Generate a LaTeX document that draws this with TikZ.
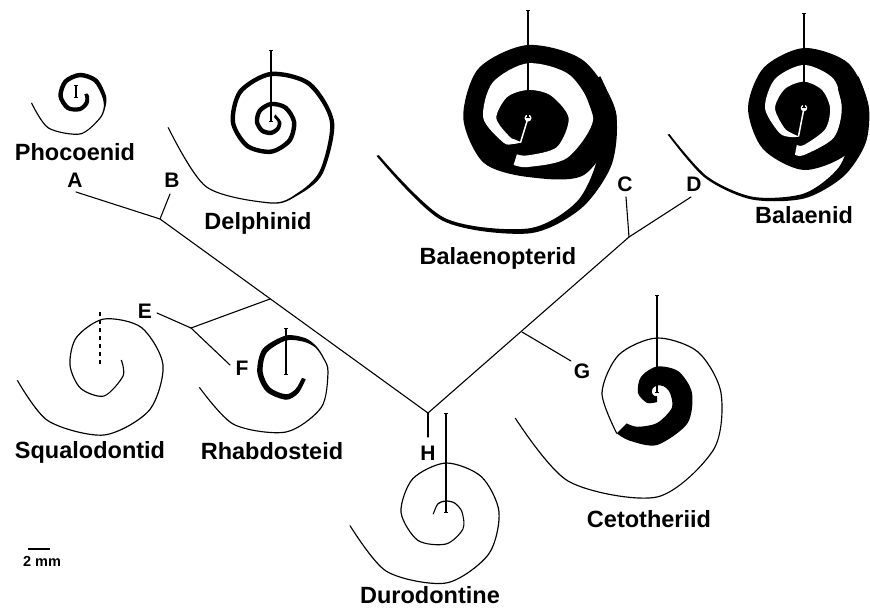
\documentclass[tikz,border=0pt]{standalone}
\usepackage{fontspec}
\setmainfont{Liberation Sans}
\usetikzlibrary{arrows.meta}

% A cochlear spiral drawn as a filled band: #2 is the centre,
% #3 a list of angle/radius/width triples (angles grow clockwise on the page),
% #1 the fill style (black band by default, white for the duct).
\newcommand\cochlea[3][spiralfill]{%
  \gdef\cochout{}\gdef\cochin{}%
  \foreach \sang/\srad/\swid in {#3}{%
    \pgfmathsetmacro\sro{\srad+\swid/2}%
    \pgfmathsetmacro\sri{\srad-\swid/2}%
    \xdef\cochout{\cochout ([shift={#2}]\sang:\sro)}%
    \xdef\cochin{([shift={#2}]\sang:\sri) \cochin}%
  }%
  \edef\cochpath{\noexpand\fill[#1] plot[smooth] coordinates {\cochout} -- plot[smooth] coordinates {\cochin} -- cycle;}%
  \cochpath
}

\tikzset{
  branch/.style={line width=1.1pt, line cap=round},
  modiolus/.style={line width=1.3pt, {Bar[width=4pt,line width=1pt]}-{Bar[width=4pt,line width=1pt]}},
  dashmodiolus/.style={line width=1.6pt, dash pattern=on 4pt off 4pt},
  taxon/.style={font=\bfseries\fontsize{23.5}{26}\selectfont, inner sep=0pt, anchor=base},
  clade/.style={font=\bfseries\fontsize{21}{24}\selectfont, inner sep=0pt, anchor=base},
  spiralfill/.style={fill=black},
  channel/.style={fill=white},
  slit/.style={white, line width=1.5pt},
}

\begin{document}
\begin{tikzpicture}[x=1pt, y=-1pt]
\useasboundingbox (0,0) rectangle (870,610);
\fill[white] (0,0) rectangle (870,610);

% ---------- tree ----------
\coordinate (jAB) at (160,219);
\coordinate (jEF) at (191,328);
\coordinate (jTrunk) at (270,299);
\coordinate (jH) at (428,413);
\coordinate (jCD) at (629,237);
\coordinate (jG) at (522,332);
\coordinate (tipA) at (76,192);
\coordinate (tipB) at (170,194);
\coordinate (tipC) at (626,197);
\coordinate (tipD) at (691,197);
\coordinate (tipE) at (157,313);
\coordinate (tipF) at (230,365);
\coordinate (tipG) at (571,361);
\coordinate (tipH) at (428,437);

\draw[branch] (tipA) -- (jAB) -- (jH) -- (jCD) -- (tipD);
\draw[branch] (tipB) -- (jAB);
\draw[branch] (tipC) -- (jCD);
\draw[branch] (jTrunk) -- (jEF);
\draw[branch] (tipE) -- (jEF) -- (tipF);
\draw[branch] (jG) -- (tipG);
\draw[branch] (jH) -- (tipH);

\node[clade] (lA) at (75,187) {A};
\node[clade] (lB) at (172,187) {B};
\node[clade] (lC) at (625,191) {C};
\node[clade] (lD) at (694,191) {D};
\node[clade] (lE) at (145,318) {E};
\node[clade] (lF) at (242,375) {F};
\node[clade] (lG) at (582,378) {G};
\node[clade] (lH) at (428,460) {H};

% ---------- Phocoenid ----------
\cochlea{(80,96)}{-20/6/3, 0/7/4, 45/9.5/4.5, 90/13/4.5, 135/17/4.5, 180/19.5/4.5,
  225/20.5/4.5, 270/21/4.5, 315/22/4.5, 360/24/4, 385/27/1.6, 410/30/1.2,
  450/38/1.2, 495/45/1.2, 532/49/1.2}
\coordinate (pTop) at (76,85); \coordinate (pBot) at (76,98);
\draw[modiolus] (pTop) -- (pBot);
\node[taxon] (nPho) at (75,160) {Phocoenid};

% ---------- Delphinid ----------
\cochlea{(271,122)}{-60/7.2/3, 0/8.5/3.5, 45/9.6/4, 90/10.9/4.5, 135/12.4/4.5,
  180/14/4.5, 225/15.9/4.5, 270/18/4.5, 315/20.4/4.5, 360/23.1/4.5,
  405/26.2/4.5, 450/29.7/4.5, 495/33.7/4.5, 540/38.1/4.5, 585/43.2/4.5,
  630/48/4.5, 675/54/4.5, 720/61/4.3, 765/71/4, 790/77/2, 810/81/1.2,
  855/91.6/1.2, 897/103/1.2}
\coordinate (dTop) at (271,50); \coordinate (dBot) at (271,122);
\draw[modiolus] (dTop) -- (dBot);
\node[taxon] (nDel) at (258,229) {Delphinid};

% ---------- Balaenopterid: solid whorls with a spiral white duct ----------
\begin{scope}[shift={(528,118)}]
  \fill[spiralfill] plot[smooth cycle] coordinates {(0:88.7) (45:80) (90:59) (135:63)
    (180:64.7) (225:70) (270:73) (315:80)};
\end{scope}
\cochlea[channel]{(528,118)}{107/25.5/0.5, 120/27.5/5, 135/30.5/8.5, 180/38.2/13,
  225/39.8/20.5, 270/41.4/26.7, 315/46/28, 360/53/24.7, 405/48.5/15,
  450/43.2/11.6, 467/43.5/11}
\begin{scope}[shift={(528,118)}]
  \fill[channel] (0,0) circle (3.5);
  \draw[slit] (0,0) -- (107:26);
\end{scope}
\cochlea{(528,118)}{690/73/21, 720/77/23, 750/88/16, 780/101/8,
  810/113/5, 850/132/3.5, 886/155/2.5}
\coordinate (bpTop) at (528,10); \coordinate (bpBot) at (528,118);
\draw[modiolus] (bpTop) -- (bpBot);
\node[taxon] (nBpt) at (498,264) {Balaenopterid};

% ---------- Balaenid ----------
\begin{scope}[shift={(804,108)}]
  \fill[spiralfill] plot[smooth cycle] coordinates {(0:64) (45:63) (90:62) (135:58)
    (180:56) (225:57) (270:60) (315:63)};
\end{scope}
\cochlea[channel]{(804,108)}{101/29/0.4, 115/30/4, 135/31.5/7, 180/34/10, 225/34/14,
  270/34.7/16.7, 315/33.5/16, 360/31.9/11.7, 405/36/12, 450/42/10, 461/42.5/10}
\begin{scope}[shift={(804,108)}]
  \fill[channel] (0,0) circle (3.3);
  \draw[slit] (0,0) -- (101:29);
\end{scope}
\cochlea{(804,108)}{690/51/24, 720/52/26, 750/62/18, 780/74/10, 810/88/5,
  840/104/3, 865/120/2.5, 889/138/2}
\coordinate (baTop) at (804,13); \coordinate (baBot) at (804,108);
\draw[modiolus] (baTop) -- (baBot);
\node[taxon] (nBal) at (804,223) {Balaenid};

% ---------- Squalodontid ----------
\cochlea{(104,365)}{-16/18/1.2, 30/22/1.2, 90/31/1.2, 135/33/1.2, 180/34/1.2,
  225/39/1.2, 270/46/1.2, 315/53/1.2, 360/59/1.2, 405/64/1.2, 450/70/1.2,
  495/79/1.2, 530/88/1.2}
\coordinate (sTop) at (100,312); \coordinate (sBot) at (100,365);
\draw[dashmodiolus] (sTop) -- (sBot);
\node[taxon] (nSqu) at (90,458) {Squalodontid};

% ---------- Rhabdosteid ----------
\cochlea{(286,372)}{20/19/4, 60/22/5, 90/25/5.5, 135/25/5.5, 180/26/5.5,
  225/30/5.5, 270/34/5, 300/37/4, 320/39/1.6, 340/40/1.2, 360/42/1.2,
  405/50/1.2, 450/60/1.2, 495/74/1.2, 530/88/1.2}
\coordinate (rTop) at (286,328); \coordinate (rBot) at (286,375);
\draw[modiolus] (rTop) -- (rBot);
\node[taxon] (nRha) at (272,459) {Rhabdosteid};

% ---------- Durodontine ----------
\cochlea{(446,512)}{170/13/1.2, 225/11.5/1.2, 270/11/1.2, 315/12.5/1.2,
  360/16/1.2, 405/24/1.2, 450/32/1.2, 495/40/1.2, 540/45/1.2, 585/47/1.2,
  630/49/1.2, 675/50/1.2, 720/53/1.2, 765/60/1.2, 810/71/1.2, 855/84/1.2,
  892/97/1.2}
\coordinate (uTop) at (446,413); \coordinate (uBot) at (446,513);
\draw[modiolus] (uTop) -- (uBot);
\node[taxon] (nDur) at (430,603) {Durodontine};

% ---------- Cetotheriid ----------
\cochlea{(657,393)}{90/6/6, 135/9/10, 180/12/14, 225/14.5/16.5, 270/17/19,
  315/20/21, 360/24/22, 405/32/22, 450/41/22, 480/47/16, 495/50/14}
\cochlea{(657,393)}{495/57/1.2, 540/55/1.2, 585/54/1.2, 630/55/1.2, 675/58/1.2,
  720/64/1.2, 765/80/1.2, 810/104/1.2, 855/125/1.2, 890/144/1.2}
\coordinate (cTop) at (657,295); \coordinate (cBot) at (657,393);
\draw[modiolus] (cTop) -- (cBot);
\node[taxon] (nCet) at (649,527) {Cetotheriid};

% ---------- scale bar ----------
\coordinate (bar1) at (28,549); \coordinate (bar2) at (50,549);
\draw[line width=1.6pt] (bar1) -- (bar2);
\node[font=\bfseries\fontsize{14.5}{16}\selectfont, inner sep=0pt, anchor=base] (scale) at (42,566) {2 mm};
\end{tikzpicture}
\end{document}
